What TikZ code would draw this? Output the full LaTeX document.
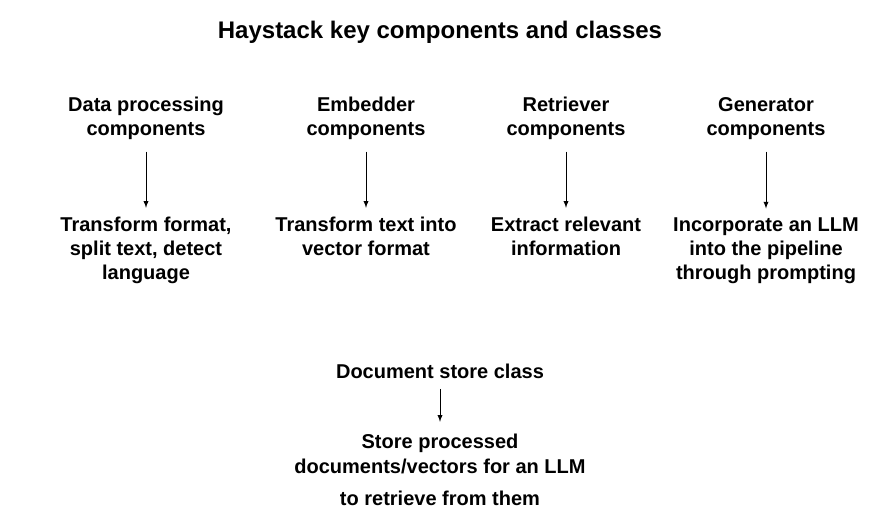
\documentclass[tikz,border=0pt]{standalone}
\usepackage{fontspec}
\setmainfont{Liberation Sans}
\usetikzlibrary{positioning}

\begin{document}
\begin{tikzpicture}[
    x=0.75pt, y=-0.75pt,
    every node/.style={align=center, anchor=base, font=\bfseries\fontsize{15}{18}\selectfont},
    title/.style={font=\bfseries\fontsize{18}{20}\selectfont},
    link/.style={draw, -latex, line width=0.75pt, shorten >=3pt, shorten <=5pt}
  ]
\useasboundingbox[fill=white] (0,0) rectangle (881,531);

% Title
\node[title] (title) at (440,39) {Haystack key components and classes};

% Component columns (anchored at the baseline of the last line)
\node (data) at (146,136) {Data processing\\components};
\node (emb) at (366,136) {Embedder\\components};
\node (ret) at (566,136) {Retriever\\components};
\node (gen) at (766,136) {Generator\\components};

\node (datat) at (146,279) {Transform format,\\split text, detect\\language};
\node (embt) at (366,255) {Transform text into\\vector format};
\node (rett) at (566,255) {Extract relevant\\information};
\node (gent) at (766,279) {Incorporate an LLM\\into the pipeline\\through prompting};

\draw[link] (data) -- (datat);
\draw[link] (emb) -- (embt);
\draw[link] (ret) -- (rett);
\draw[link] (gen) -- (gent);

% Document store
\node (store) at (440,378) {Document store class};
\node (storet) at (440,505) {Store processed\\[0.75pt]documents/vectors for an LLM\\[5.75pt]to retrieve from them};
\draw[link, shorten <=4.5pt, shorten >=5.5pt] (store) -- (storet);

\end{tikzpicture}
\end{document}
